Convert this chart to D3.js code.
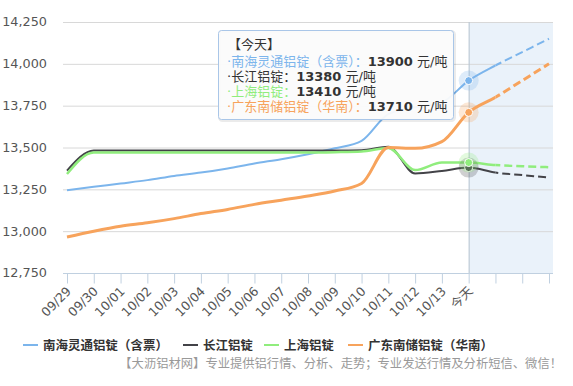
<!DOCTYPE html>
<html>
<head>
<meta charset="utf-8">
<script src="https://cdnjs.cloudflare.com/ajax/libs/d3/7.8.5/d3.min.js"></script>
<style>
    body { margin: 0; background: #fff; }
    svg { display: block; font-family: "DejaVu Sans", "Noto Sans CJK SC", sans-serif; }
</style>
</head>
<body>
<div id="chart"></div>
<script>
// Categories (the last three slots are the forecast days, no labels)
const categories = ["09/29", "09/30", "10/01", "10/02", "10/03", "10/04", "10/05", "10/06",
    "10/07", "10/08", "10/09", "10/10", "10/11", "10/12", "10/13", "今天", "", "", ""];
const todayIndex = 15;
const solidUntil = 16;

const seriesNames = ["南海灵通铝锭（含票）", "长江铝锭", "上海铝锭", "广东南储铝锭（华南）"];
const seriesColors = ["#7cb5ec", "#434348", "#90ed7d", "#f7a35c"];

// Prices (元/吨)
const nanhai = [13245, 13265, 13285, 13305, 13330, 13350, 13375, 13405, 13430, 13460, 13495,
    13540, 13700, 13740, 13770, 13900, 13990, 14070, 14150];
const changjiang = [13362, 13482, 13482, 13482, 13482, 13482, 13482, 13482, 13482, 13482, 13482,
    13484, 13505, 13345, 13360, 13380, 13350, 13335, 13320];
const shanghai = [13342, 13470, 13470, 13470, 13470, 13470, 13470, 13470, 13470, 13470, 13472,
    13476, 13497, 13365, 13410, 13410, 13395, 13388, 13382];
const guangdong = [12965, 13000, 13030, 13050, 13075, 13105, 13130, 13160, 13185, 13210, 13240,
    13285, 13500, 13495, 13535, 13710, 13800, 13900, 14000];

const yTicks = [12750, 13000, 13250, 13500, 13750, 14000, 14250];

const tooltipTitle = "【今天】";
const unitText = " 元/吨";
const footerText = "【大沥铝材网】专业提供铝行情、分析、走势；专业发送行情及分析短信、微信！";

document.addEventListener("DOMContentLoaded", () => {
    const width = 573, height = 386;
    const plot = { left: 63, right: 553, top: 22, bottom: 273 };

    const seriesData = [nanhai, changjiang, shanghai, guangdong];
    const widths = [2, 2, 2.5, 3];

    const svg = d3.select("#chart")
        .append("svg")
        .attr("width", width)
        .attr("height", height);

    const x = d3.scalePoint()
        .domain(d3.range(categories.length))
        .range([67, 549]);

    const y = d3.scaleLinear()
        .domain([12750, 14250])
        .range([plot.bottom, plot.top]);

    // Forecast band (right of today)
    svg.append("rect")
        .attr("x", x(todayIndex))
        .attr("y", plot.top)
        .attr("width", plot.right - x(todayIndex))
        .attr("height", plot.bottom - plot.top)
        .attr("fill", "#eaf2fa");

    // Grid lines
    svg.append("g")
        .selectAll("line")
        .data(yTicks.slice(1))
        .enter()
        .append("line")
        .attr("x1", plot.left)
        .attr("x2", plot.right)
        .attr("y1", d => y(d) + 0.5)
        .attr("y2", d => y(d) + 0.5)
        .attr("stroke", "#d8d8d8");

    // Y labels
    svg.append("g")
        .selectAll("text")
        .data(yTicks)
        .enter()
        .append("text")
        .attr("x", 47)
        .attr("y", d => y(d))
        .attr("dy", "0.35em")
        .attr("text-anchor", "end")
        .style("font-size", "12.8px")
        .attr("fill", "#555")
        .text(d => d3.format(",")(d));

    // X axis
    const xAxis = svg.append("g")
        .attr("transform", `translate(0,${plot.bottom + 0.5})`)
        .call(d3.axisBottom(x).tickSize(10).tickFormat(""));
    xAxis.select(".domain")
        .attr("d", `M${plot.left},0H${plot.right}`)
        .attr("stroke", "#c0d0e0");
    xAxis.selectAll(".tick line").attr("stroke", "#c0d0e0");

    svg.append("g")
        .selectAll("text")
        .data(categories)
        .enter()
        .append("text")
        .attr("transform", (d, i) => `translate(${x(i) + 5},${plot.bottom + 19}) rotate(-45)`)
        .attr("text-anchor", "end")
        .style("font-size", "12.5px")
        .attr("fill", "#555")
        .text(d => d);

    // Crosshair at today
    svg.append("line")
        .attr("x1", x(todayIndex) + 0.5)
        .attr("x2", x(todayIndex) + 0.5)
        .attr("y1", plot.top)
        .attr("y2", plot.bottom)
        .attr("stroke", "#b8c4d0");

    // Clip paths for solid / dashed zones
    const defs = svg.append("defs");
    defs.append("clipPath").attr("id", "solid-zone")
        .append("rect")
        .attr("x", 0).attr("y", 0)
        .attr("width", x(solidUntil)).attr("height", height);
    defs.append("clipPath").attr("id", "dash-zone")
        .append("rect")
        .attr("x", x(solidUntil)).attr("y", 0)
        .attr("width", width).attr("height", height);

    const line = d3.line()
        .x((d, i) => x(i))
        .y(d => y(d))
        .curve(d3.curveMonotoneX);

    seriesData.forEach((values, s) => {
        svg.append("path")
            .attr("d", line(values))
            .attr("fill", "none")
            .attr("stroke", seriesColors[s])
            .attr("stroke-width", widths[s])
            .attr("stroke-linejoin", "round")
            .attr("clip-path", "url(#solid-zone)");

        svg.append("path")
            .attr("d", line(values))
            .attr("fill", "none")
            .attr("stroke", seriesColors[s])
            .attr("stroke-width", widths[s])
            .attr("stroke-dasharray", "8,4")
            .attr("clip-path", "url(#dash-zone)");
    });

    // Hover markers at today
    seriesData.forEach((values, s) => {
        svg.append("circle")
            .attr("cx", x(todayIndex))
            .attr("cy", y(values[todayIndex]))
            .attr("r", 10)
            .attr("fill", seriesColors[s])
            .attr("opacity", 0.25);
        svg.append("circle")
            .attr("cx", x(todayIndex))
            .attr("cy", y(values[todayIndex]))
            .attr("r", 4)
            .attr("fill", seriesColors[s])
            .attr("stroke", "#fff")
            .attr("stroke-width", 1);
    });

    // Tooltip
    const tip = svg.append("g").attr("transform", "translate(218,30)");
    tip.append("rect")
        .attr("x", 1.5).attr("y", 1.5)
        .attr("width", 235).attr("height", 89)
        .attr("rx", 3)
        .attr("fill", "none")
        .attr("stroke", "rgba(0,0,0,0.08)")
        .attr("stroke-width", 3);
    tip.append("rect")
        .attr("x", 0.5).attr("y", 0.5)
        .attr("width", 235).attr("height", 89)
        .attr("rx", 3)
        .attr("fill", "rgba(251,251,251,0.95)")
        .attr("stroke", "#a9c6e8");

    tip.append("text")
        .attr("x", 10)
        .attr("y", 19)
        .style("font-size", "13px")
        .attr("fill", "#333")
        .text(tooltipTitle);

    seriesData.forEach((values, s) => {
        const color = s === 1 ? "#333" : seriesColors[s];
        const t = tip.append("text")
            .attr("x", 9)
            .attr("y", 35.5 + s * 15.3)
            .style("font-size", "13px");
        t.append("tspan").attr("fill", color).text("·");
        t.append("tspan").attr("fill", color).text(seriesNames[s] + "：");
        t.append("tspan").attr("fill", "#333").style("font-weight", "bold").text(values[todayIndex]);
        t.append("tspan").attr("fill", "#333").text(unitText);
    });

    // Legend
    const legendX = [23, 183, 264, 348];
    const legend = svg.append("g").attr("transform", "translate(0,345)");
    seriesNames.forEach((name, s) => {
        legend.append("line")
            .attr("x1", legendX[s])
            .attr("x2", legendX[s] + 15)
            .attr("y1", 0)
            .attr("y2", 0)
            .attr("stroke", seriesColors[s])
            .attr("stroke-width", 2);
        legend.append("text")
            .attr("x", legendX[s] + 20)
            .attr("y", 0)
            .attr("dy", "0.36em")
            .style("font-size", "12.5px")
            .style("font-weight", "bold")
            .attr("fill", "#333")
            .text(name);
    });

    // Footer credit
    svg.append("text")
        .attr("x", 562)
        .attr("y", 364)
        .attr("dy", "0.36em")
        .attr("text-anchor", "end")
        .style("font-size", "12.3px")
        .attr("fill", "#999")
        .text(footerText);
});
</script>
</body>
</html>
